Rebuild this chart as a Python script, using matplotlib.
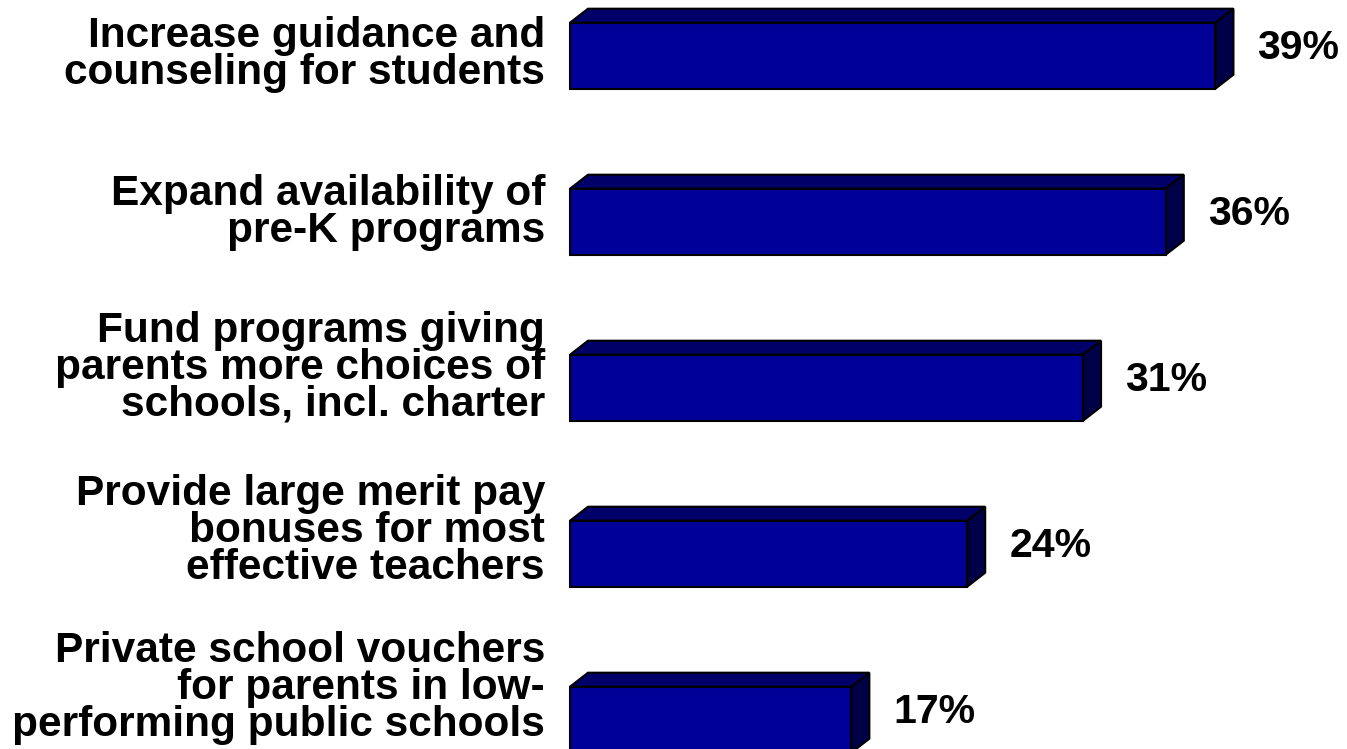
#!/usr/bin/env python

"""
Horizontal 3D-style bar chart of support for education proposals.
"""

import matplotlib.pyplot as plt
from matplotlib.patches import Polygon

categories = [
    "Increase guidance and\ncounseling for students",
    "Expand availability of\npre-K programs",
    "Fund programs giving\nparents more choices of\nschools, incl. charter",
    "Provide large merit pay\nbonuses for most\neffective teachers",
    "Private school vouchers\nfor parents in low-\nperforming public schools",
]
values = [39, 36, 31, 24, 17]
value_labels = ["39%", "36%", "31%", "24%", "17%"]

# layout in pixel rows (y grows downward)
PX_PER_PCT = 16.55
ZERO_X = 570
BAR_TOP0 = 22.7
BAR_STEP = 166
BAR_H = 66
DEPTH_X = 18 / PX_PER_PCT
DEPTH_Y = 14
label_tops = [16, 174, 311, 474, 631]

FRONT = "#000099"
TOP = "#000068"
SIDE = "#000048"
FONT = "Liberation Sans"


def plot_bars():
    fig = plt.figure(figsize=(13.47, 7.49), dpi=100)
    ax = fig.add_axes([0, 0, 1, 1])
    ax.set_xlim(-ZERO_X / PX_PER_PCT, (1347 - ZERO_X) / PX_PER_PCT)
    ax.set_ylim(749, 0)
    ax.axis("off")

    tops = [BAR_TOP0 + BAR_STEP * i for i in range(len(values))]
    centers = [t + BAR_H / 2 for t in tops]

    ax.barh(centers, values, height=BAR_H, left=0, color=FRONT,
            edgecolor="black", linewidth=1.5, zorder=3)

    for top, v in zip(tops, values):
        bottom = top + BAR_H
        top_face = [(0, top), (v, top), (v + DEPTH_X, top - DEPTH_Y), (DEPTH_X, top - DEPTH_Y)]
        side_face = [(v, top), (v + DEPTH_X, top - DEPTH_Y),
                     (v + DEPTH_X, bottom - DEPTH_Y), (v, bottom)]
        ax.add_patch(Polygon(top_face, closed=True, facecolor=TOP,
                             edgecolor="black", linewidth=1.5, zorder=2))
        ax.add_patch(Polygon(side_face, closed=True, facecolor=SIDE,
                             edgecolor="black", linewidth=1.5, zorder=2))

    for cat, y in zip(categories, label_tops):
        ax.text(-25 / PX_PER_PCT, y, cat, ha="right", va="top",
                multialignment="right", fontsize=30.5, fontweight="bold",
                family=FONT, linespacing=0.9)

    for top, v, lab in zip(tops, values, value_labels):
        ax.text(v + 42 / PX_PER_PCT, top + 36, lab, ha="left", va="baseline",
                fontsize=29.5, fontweight="bold", family=FONT)

    fig.savefig("out.png", dpi=100)


if __name__ == "__main__":
    plot_bars()
